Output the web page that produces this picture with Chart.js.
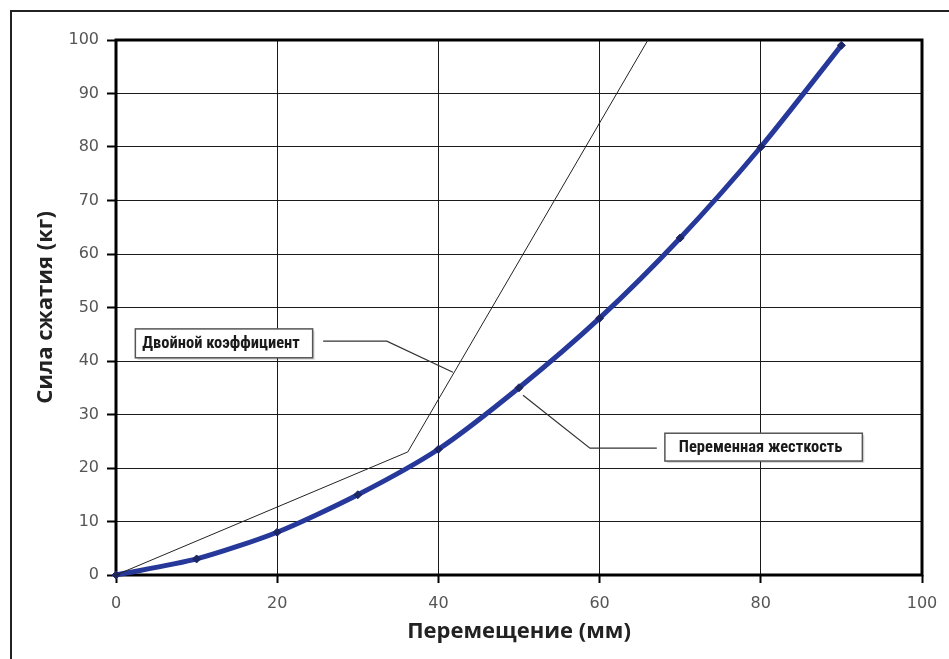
<!DOCTYPE html>
<html>
<head>
<meta charset="utf-8">
<script src="https://cdn.jsdelivr.net/npm/chart.js@4.4.0/dist/chart.umd.min.js"></script>
<style>
  html, body { margin: 0; padding: 0; background: #fff; }
  #wrap { position: relative; width: 949px; height: 659px; overflow: hidden; }
</style>
</head>
<body>
<div id="wrap"><canvas id="chart" width="949" height="659"></canvas></div>
<script>
/* ── Data ───────────────────────────────────────────────────── */
const DISPLACEMENT = [0, 10, 20, 30, 40, 50, 60, 70, 80, 90];
const FORCE        = [0, 3, 8, 15, 23.5, 35, 48, 63, 80, 99];

const DOUBLE_X = [0, 36.2, 66];
const DOUBLE_Y = [0, 23, 100];

const LABEL_DOUBLE   = 'Двойной коэффициент';
const LABEL_VARIABLE = 'Переменная жесткость';
const X_TITLE = 'Перемещение (мм)';
const Y_TITLE = 'Сила сжатия (кг)';

/* ── Callouts (data-space anchors) ──────────────────────────── */
const CALLOUTS = [
  { text: LABEL_DOUBLE,   box: [2.4, 46, 24.4, 40.6],
    leader: [[25.7, 43.7], [33.6, 43.7], [41.8, 37.9]] },
  { text: LABEL_VARIABLE, box: [68.1, 26.5, 92.6, 21.3],
    leader: [[67.1, 23.7], [58.8, 23.7], [50.5, 33.6]] },
];

const TICK_FONT  = { family: "'DejaVu Sans', Verdana, sans-serif", size: 16 };
const TITLE_FONT = { family: "'Open Sans', 'DejaVu Sans', sans-serif", size: 22, weight: 'bold' };

/* outer frame + thick plot frame */
const framePlugin = {
  id: 'frame',
  beforeDraw(chart) {
    const c = chart.ctx;
    c.save();
    c.strokeStyle = '#222';
    c.lineWidth = 2;
    c.strokeRect(11, 11, 1200, 1200);
    c.restore();
  },
  beforeDatasetsDraw(chart) {
    const { ctx: c, chartArea: a } = chart;
    c.save();
    c.strokeStyle = '#000';
    c.lineWidth = 3;
    c.strokeRect(a.left, a.top, a.right - a.left, a.bottom - a.top);
    c.restore();
  },
};

const calloutPlugin = {
  id: 'callouts',
  afterDatasetsDraw(chart) {
    const { ctx: c, scales: { x, y } } = chart;
    c.save();
    CALLOUTS.forEach(co => {
      c.strokeStyle = '#333';
      c.lineWidth = 1.2;
      c.beginPath();
      co.leader.forEach(([px, py], i) => {
        const X = x.getPixelForValue(px), Y = y.getPixelForValue(py);
        i ? c.lineTo(X, Y) : c.moveTo(X, Y);
      });
      c.stroke();

      const l = x.getPixelForValue(co.box[0]), t = y.getPixelForValue(co.box[1]);
      const r = x.getPixelForValue(co.box[2]), b = y.getPixelForValue(co.box[3]);
      c.fillStyle = 'rgba(0,0,0,0.15)';
      c.fillRect(l + 2, t + 2, r - l, b - t);
      c.fillStyle = '#fff';
      c.fillRect(l, t, r - l, b - t);
      c.strokeStyle = '#555';
      c.lineWidth = 1.5;
      c.strokeRect(l, t, r - l, b - t);

      c.fillStyle = '#1a1a1a';
      c.font = "bold 16.5px 'Liberation Sans Narrow', 'Roboto Condensed', 'Liberation Sans', sans-serif";
      c.textAlign = 'center';
      c.textBaseline = 'middle';
      c.fillText(co.text, (l + r) / 2 - 3, (t + b) / 2 + 1);
    });
    c.restore();
  },
};

const gridCfg = {
  color: '#1a1a1a',
  lineWidth: 1,
  tickColor: '#000',
  tickWidth: 2,
};

new Chart(document.getElementById('chart'), {
  type: 'scatter',
  data: {
    datasets: [
      {
        label: LABEL_DOUBLE,
        data: DOUBLE_X.map((v, i) => ({ x: v, y: DOUBLE_Y[i] })),
        showLine: true,
        borderColor: '#222',
        borderWidth: 1,
        pointRadius: 0,
        tension: 0,
      },
      {
        label: LABEL_VARIABLE,
        data: DISPLACEMENT.map((v, i) => ({ x: v, y: FORCE[i] })),
        showLine: true,
        borderColor: '#26389a',
        borderWidth: 5,
        pointStyle: 'rectRot',
        pointRadius: 4,
        pointBackgroundColor: '#1c2566',
        pointBorderColor: '#1c2566',
        pointBorderWidth: 1,
        tension: 0.25,
      },
    ],
  },
  options: {
    responsive: false,
    animation: false,
    clip: false,
    layout: { padding: { left: 0, top: 40, right: 27, bottom: 0 } },
    plugins: { legend: { display: false }, tooltip: { enabled: false } },
    scales: {
      x: {
        type: 'linear', min: 0, max: 100,
        afterFit: s => { s.height = 84; },
        ticks: { stepSize: 20, color: '#555', font: TICK_FONT, padding: 11, maxRotation: 0 },
        grid: { ...gridCfg, tickLength: 8 },
        border: { display: false },
        title: { display: true, text: X_TITLE, color: '#222', font: TITLE_FONT, padding: { top: 0, bottom: 14 } },
      },
      y: {
        type: 'linear', min: 0, max: 100,
        afterFit: s => { s.width = 116; },
        ticks: { stepSize: 10, color: '#555', font: TICK_FONT, padding: 8 },
        grid: { ...gridCfg, tickLength: 9 },
        border: { display: false },
        title: { display: true, text: Y_TITLE, color: '#222', font: TITLE_FONT, padding: { top: 33, bottom: 0 } },
      },
    },
  },
  plugins: [framePlugin, calloutPlugin],
});
</script>
</body>
</html>
